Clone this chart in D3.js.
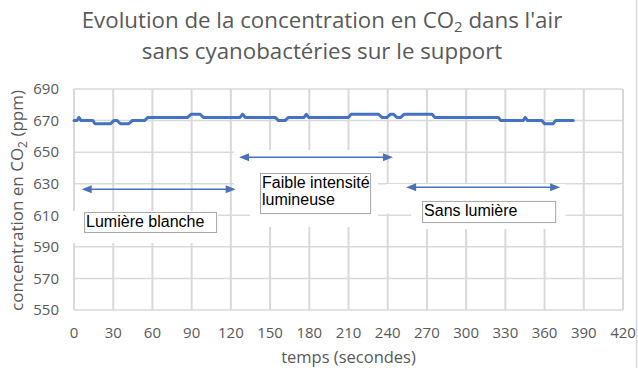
<!DOCTYPE html>
<html><head><meta charset="utf-8">
<script src="https://cdn.jsdelivr.net/npm/d3@7"></script>
<style>html,body{margin:0;padding:0;background:#fff;}svg{display:block;}</style>
</head><body>
<svg id="c" width="638" height="368"></svg>
<script>
// ---- data ----
const time = [0, 2.3, 3.8, 5.4, 14.5, 16, 28, 30.5, 33, 35.5, 42, 44.5, 54, 56.5, 87, 89.5, 96.5, 99, 127, 129, 131, 154, 156.5, 161.5, 164, 176, 177.7, 179.5, 210, 212, 233, 235.5, 239.5, 242, 244.5, 247, 250, 252.5, 274, 276, 324.5, 326.5, 343.5, 345.2, 347, 358, 360, 366.5, 368.5, 382];
const co2 = [670, 670, 672, 670, 670, 668, 668, 670, 670, 668, 668, 670, 670, 672, 672, 674, 674, 672, 672, 674, 672, 672, 670, 670, 672, 672, 674, 672, 672, 674, 674, 672, 672, 674, 674, 672, 672, 674, 674, 672, 672, 670, 670, 672, 670, 670, 668, 668, 670, 670];
const xTicks = [0, 30, 60, 90, 120, 150, 180, 210, 240, 270, 300, 330, 360, 390, 420];
const yTicks = [550, 570, 590, 610, 630, 650, 670, 690];
const titleLines = ["Evolution de la concentration en CO|2| dans l'air", "sans cyanobactéries sur le support"];
const xTitle = "temps (secondes)";
const yTitle = ["concentration en CO", "2", " (ppm)"];
// annotations (in data units: seconds, ppm)
const arrowStart = [5.9, 126.3, 254.1];
const arrowEnd = [123.7, 244.1, 371.9];
const arrowLevel = [626.5, 646.7, 627.8];
const labelLines = [["Lumière blanche"], ["Faible intensité", "lumineuse"], ["Sans lumière"]];
const boxT = [[7.7, 108.7], [142.3, 226.5], [266.3, 368.1]];
const boxV = [[612.1, 599.4], [636.8, 611.4], [619.1, 605.7]];
const maskT = [[-3, 110.2], [122.4, 232.6], [134.7, 232.6], [238.5, 376], [258, 376]];
const maskV = [[612.7, 592.4], [651.4, 619.8], [619.8, 602.6], [629.8, 611], [612, 601.3]];

// ---- layout ----
const svg = d3.select("#c");
const x = d3.scaleLinear().domain([0, 420]).range([74, 623]);
const y = d3.scaleLinear().domain([550, 690]).range([310, 89]);
const grid = "#d9d9d9", textGray = "#595959", blue = "#4472c4";
const axFont = "'Open Sans', sans-serif";

// border on right
svg.append("line").attr("x1", 636.5).attr("x2", 636.5).attr("y1", 0).attr("y2", 368)
  .attr("stroke", grid).attr("stroke-width", 1.5);

// gridlines
svg.append("g").selectAll("line").data(yTicks).join("line")
  .attr("x1", x(0)).attr("x2", x(420)).attr("y1", d => y(d)).attr("y2", d => y(d))
  .attr("stroke", grid).attr("stroke-width", 1.5);
svg.append("g").selectAll("line").data(xTicks).join("line")
  .attr("x1", d => x(d)).attr("x2", d => x(d)).attr("y1", y(550)).attr("y2", y(690))
  .attr("stroke", grid).attr("stroke-width", 2);

// tick labels
svg.append("g").selectAll("text").data(yTicks).join("text")
  .attr("x", 59).attr("y", d => y(d)).attr("dy", "0.35em").attr("text-anchor", "end")
  .attr("font-family", axFont).attr("font-size", 15).attr("fill", textGray).text(d => d);
svg.append("g").selectAll("text").data(xTicks).join("text")
  .attr("x", d => x(d)).attr("y", 338).attr("text-anchor", "middle")
  .attr("font-family", axFont).attr("font-size", 15).attr("fill", textGray).text(d => d);

// data line
const pts = time.map((t, i) => [t, co2[i]]);
svg.append("path").attr("d", d3.line().x(d => x(d[0])).y(d => y(d[1]))(pts))
  .attr("fill", "none").attr("stroke", blue).attr("stroke-width", 3)
  .attr("stroke-linejoin", "round").attr("stroke-linecap", "round");

// white masks behind annotations
maskT.forEach((t, i) => {
  svg.append("rect").attr("x", x(t[0])).attr("y", y(maskV[i][0]))
    .attr("width", x(t[1]) - x(t[0])).attr("height", y(maskV[i][1]) - y(maskV[i][0]))
    .attr("fill", "#fff");
});

// arrows
function head(xa, ya, dir) {
  const L = 10, W = 4;
  return `M${xa},${ya} L${xa - dir * L},${ya - W} L${xa - dir * L},${ya + W} Z`;
}
arrowStart.forEach((t0, i) => {
  const x0 = x(t0), x1 = x(arrowEnd[i]), yy = y(arrowLevel[i]);
  svg.append("line").attr("x1", x0 + 8).attr("x2", x1 - 8).attr("y1", yy).attr("y2", yy)
    .attr("stroke", "#4a72b8").attr("stroke-width", 1.5);
  svg.append("path").attr("d", head(x0, yy, -1)).attr("fill", "#4a72b8");
  svg.append("path").attr("d", head(x1, yy, 1)).attr("fill", "#4a72b8");
});

// label boxes
labelLines.forEach((lines, i) => {
  const bx0 = x(boxT[i][0]), bx1 = x(boxT[i][1]);
  const by0 = y(boxV[i][0]), by1 = y(boxV[i][1]);
  svg.append("rect").attr("x", bx0 + 0.5).attr("y", by0 + 0.5)
    .attr("width", bx1 - bx0).attr("height", by1 - by0)
    .attr("fill", "#fff").attr("stroke", "#a6a6a6").attr("stroke-width", 1);
  lines.forEach((s, j) => {
    svg.append("text").attr("x", bx0 + 2).attr("y", by0 + 15 + j * 17)
      .attr("font-family", "'Liberation Sans', Arial, sans-serif").attr("font-size", 16)
      .attr("fill", "#000").text(s);
  });
});

// title
titleLines.forEach((s, i) => {
  const t = svg.append("text").attr("x", 322).attr("y", 28 + i * 31).attr("text-anchor", "middle")
    .attr("font-family", axFont).attr("font-size", 22.3).attr("fill", textGray);
  s.split("|").forEach((part, k) => {
    if (k === 1) {
      t.append("tspan").attr("font-size", 15).attr("dy", 4).text(part);
    } else if (k === 2) {
      t.append("tspan").attr("dy", -4).text(part);
    } else {
      t.append("tspan").text(part);
    }
  });
});

// axis titles
svg.append("text").attr("x", x(210)).attr("y", 363).attr("text-anchor", "middle")
  .attr("font-family", axFont).attr("font-size", 16.5).attr("fill", textGray).text(xTitle);
const yt = svg.append("text").attr("transform", `translate(23,${(y(550) + y(690)) / 2 + 1}) rotate(-90)`)
  .attr("text-anchor", "middle").attr("font-family", axFont).attr("font-size", 17).attr("fill", textGray);
yt.append("tspan").text(yTitle[0]);
yt.append("tspan").attr("font-size", 12).attr("dy", 4).text(yTitle[1]);
yt.append("tspan").attr("dy", -4).text(yTitle[2]);
</script>
</body></html>
